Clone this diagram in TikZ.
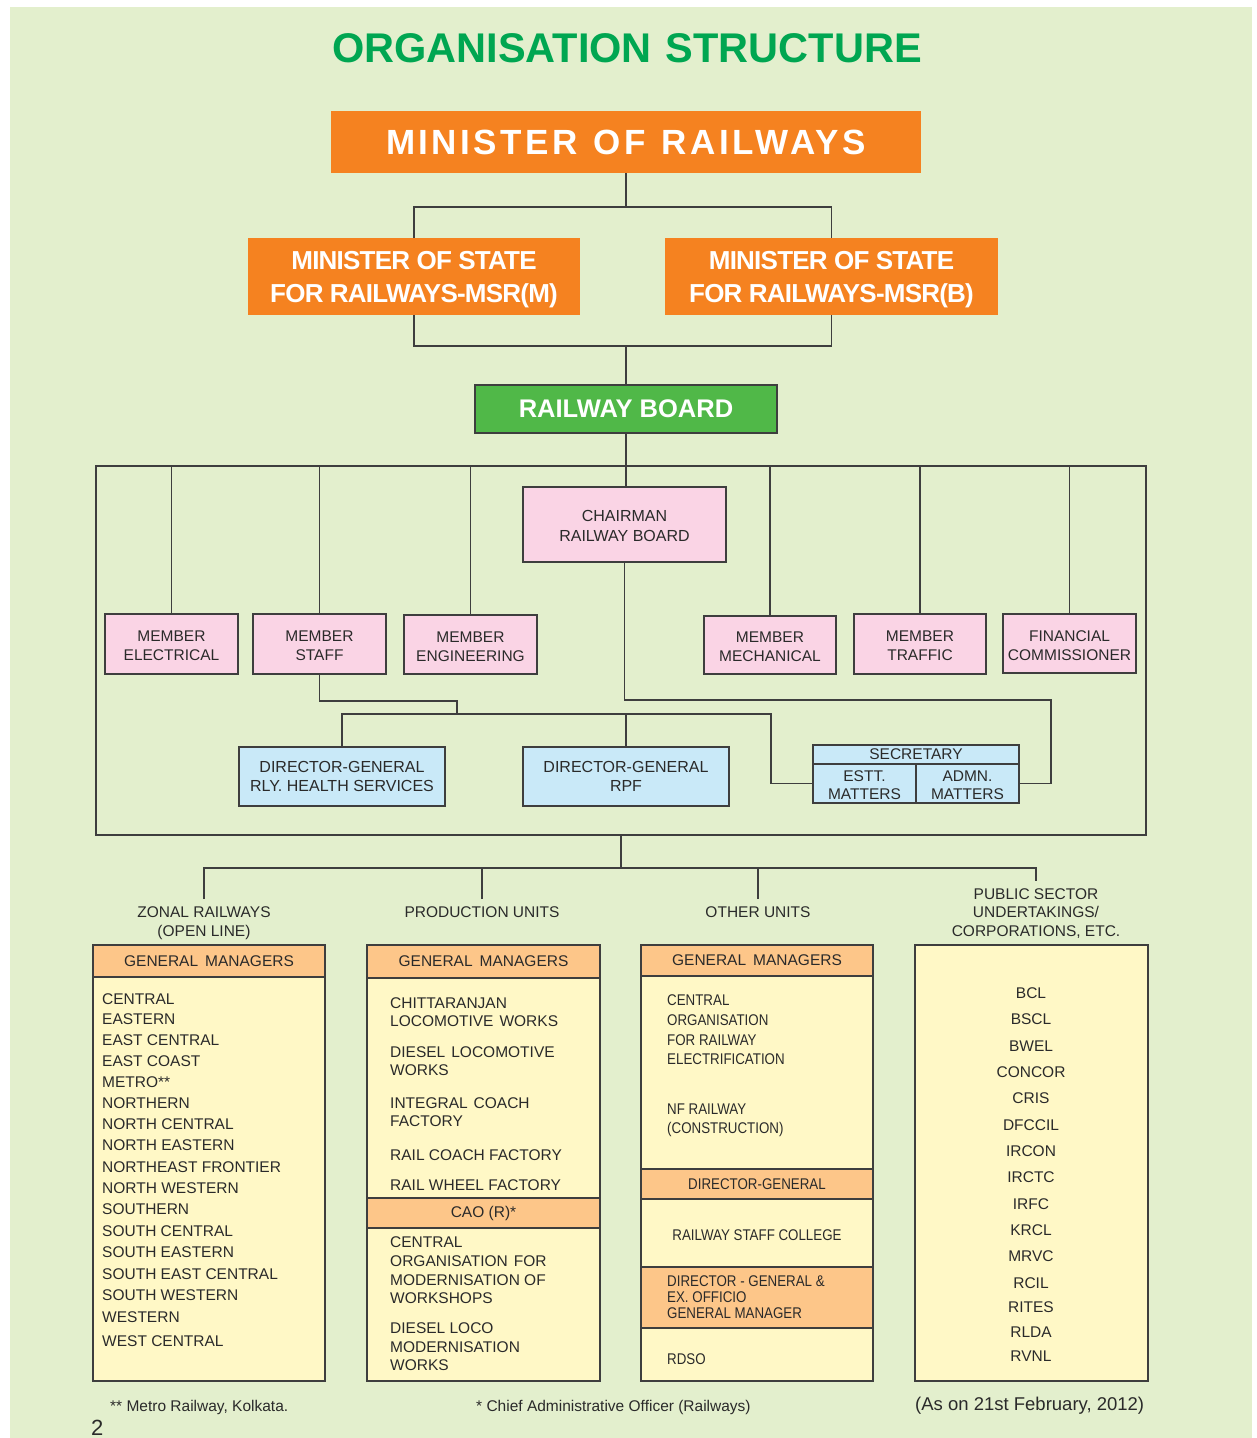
\documentclass[tikz,border=0pt]{standalone}
\usepackage{fontspec}
\setmainfont{Liberation Sans}
\newfontfamily\condfont[FakeStretch=0.86]{Liberation Sans}
\definecolor{pagebg}{RGB}{227,239,205}
\definecolor{titlegreen}{RGB}{0,166,81}
\definecolor{boxorange}{RGB}{245,130,32}
\definecolor{boardgreen}{RGB}{80,184,72}
\definecolor{memberpink}{RGB}{250,212,229}
\definecolor{dgblue}{RGB}{201,233,248}
\definecolor{unityellow}{RGB}{255,248,198}
\definecolor{headorange}{RGB}{253,198,137}
\definecolor{inkgray}{RGB}{62,62,62}
\definecolor{textgray}{RGB}{42,42,42}
\newcommand\txtsize{\fontsize{15.5}{19}\selectfont}
\begin{document}
\begin{tikzpicture}[x=1pt,y=-1pt,
  link/.style={draw=inkgray, line width=1.2pt},
  box/.style={draw=inkgray, line width=1.2pt, inner sep=0pt, outer sep=0pt,
    anchor=north west, align=center, text=textgray, font=\txtsize},
  topbox/.style={fill=boxorange, inner sep=0pt, outer sep=0pt, anchor=north west,
    align=center, text=white},
  memberbox/.style={box, fill=memberpink, text height=33pt, text depth=0pt},
  dgbox/.style={box, fill=dgblue},
  unitbox/.style={box, fill=unityellow},
  headbox/.style={box, fill=headorange},
  lbl/.style={inner xsep=0pt, inner ysep=7pt, anchor=north, align=center,
    text=textgray, font=\fontsize{15.5}{19.5}\selectfont},
  item/.style={inner sep=0pt, anchor=base west, text=textgray, font=\txtsize},
  citem/.style={inner sep=0pt, anchor=base west, text=textgray,
    font=\fontsize{15.5}{19}\condfont},
  psuitem/.style={inner sep=0pt, anchor=base, text=textgray, font=\txtsize},
  note/.style={inner sep=0pt, anchor=base west, text=textgray}
]
\useasboundingbox (0,0) rectangle (1256,1438);
\fill[white] (0,0) rectangle (1256,1438);
\fill[pagebg] (10,7) rectangle (1252,1438);

% ---- heading ----
\node[inner sep=0pt, anchor=base, text=titlegreen,
  font=\fontsize{41.5}{48}\selectfont\bfseries] (title) at (627,62)
  {ORGANISATION\hspace{14pt}STRUCTURE};

% ---- ministers ----
\node[topbox, minimum width=590pt, minimum height=62pt,
  font=\fontsize{35}{40}\selectfont\bfseries\addfontfeatures{LetterSpace=10}]
  (minister) at (331,111) {MINISTER\hspace{16pt}OF\hspace{16pt}RAILWAYS};
\node[topbox, minimum width=332pt, minimum height=77pt, text height=51.6pt, text depth=0pt,
  font=\fontsize{26}{33}\selectfont\bfseries\addfontfeatures{LetterSpace=-3}] (msrm) at (248,238)
  {MINISTER OF STATE\\FOR RAILWAYS-MSR(M)};
\node[topbox, minimum width=333pt, minimum height=77pt, text height=51.6pt, text depth=0pt,
  font=\fontsize{26}{33}\selectfont\bfseries\addfontfeatures{LetterSpace=-3}] (msrb) at (665,238)
  {MINISTER OF STATE\\FOR RAILWAYS-MSR(B)};
\node[box, fill=boardgreen, text=white, minimum width=302pt, minimum height=48pt,
  font=\fontsize{25.5}{30}\selectfont\bfseries] (board) at (475,385) {RAILWAY BOARD};

\coordinate (mbus) at (626,207);
\coordinate (sbus) at (626,346);
\draw[link] (minister.south) -- (mbus);
\draw[link] (msrm.north) |- (mbus) -| (msrb.north);
\draw[link] (msrm.south) |- (sbus) -| (msrb.south);
\draw[link] (sbus) -- (board.north);

% ---- railway board frame ----
\node[draw=inkgray, line width=1.2pt, inner sep=0pt, outer sep=0pt, anchor=north west,
  minimum width=1050pt, minimum height=369pt] (frame) at (96,466) {};

\node[memberbox, minimum width=203pt, minimum height=75pt, text height=34.5pt,
  font=\fontsize{16}{20}\selectfont] (chair) at (523,487) {CHAIRMAN\\RAILWAY BOARD};
\node[memberbox, minimum width=133pt, minimum height=60pt] (melec) at (105,614) {MEMBER\\ELECTRICAL};
\node[memberbox, minimum width=133pt, minimum height=60pt] (mstaff) at (253,614) {MEMBER\\STAFF};
\node[memberbox, minimum width=133pt, minimum height=59pt] (meng) at (404,615) {MEMBER\\ENGINEERING};
\node[memberbox, minimum width=132pt, minimum height=58pt] (mmech) at (704,616) {MEMBER\\MECHANICAL};
\node[memberbox, minimum width=132pt, minimum height=60pt] (mtraf) at (854,614) {MEMBER\\TRAFFIC};
\node[memberbox, minimum width=133pt, minimum height=59pt] (fincom) at (1003,614) {FINANCIAL\\COMMISSIONER};

\draw[link] (board.south) -- (board.south |- chair.north);
\foreach \m in {melec,mstaff,meng,mmech,mtraf,fincom}
  \draw[link] (\m.north) -- (\m.north |- frame.north);

\node[dgbox, minimum width=206pt, minimum height=59pt, text height=30.5pt, text depth=0pt,
  font=\fontsize{16}{19}\selectfont]
  (dghealth) at (239,747) {DIRECTOR-GENERAL\\RLY. HEALTH SERVICES};
\node[dgbox, minimum width=206pt, minimum height=59pt, text height=30.5pt, text depth=0pt,
  font=\fontsize{16}{19}\selectfont]
  (dgrpf) at (523,747) {DIRECTOR-GENERAL\\RPF};
\node[dgbox, minimum width=206pt, minimum height=19pt] (secr) at (813,745) {SECRETARY};
\node[dgbox, minimum width=103pt, minimum height=39pt, text height=32pt, text depth=0pt,
  font=\fontsize{15.5}{18}\selectfont] (estt) at (813,764) {ESTT.\\MATTERS};
\node[dgbox, minimum width=103pt, minimum height=39pt, text height=32pt, text depth=0pt,
  font=\fontsize{15.5}{18}\selectfont] (admn) at (916,764) {ADMN.\\MATTERS};

\coordinate (staffjog) at (457,701);
\coordinate (dgbus) at (342,714);
\coordinate (dgbusend) at (771,714);
\coordinate (chairjog) at (1051,700);
\draw[link] (mstaff.south) |- (staffjog) -- (staffjog |- dgbus);
\draw[link] (dghealth.north) -- (dgbus) -- (dgbusend) |- (estt.west);
\draw[link] (dgrpf.north) -- (dgrpf.north |- dgbus);
\draw[link] (chair.south) |- (chairjog) |- (admn.east);

% ---- unit groups ----
\node[lbl] (lblzonal) at (204,899) {ZONAL RAILWAYS\\(OPEN LINE)};
\node[lbl] (lblprod) at (482,899) {PRODUCTION UNITS};
\node[lbl] (lblother) at (758,899) {OTHER UNITS};
\node[lbl, font=\fontsize{15.5}{18.5}\selectfont] (lblpsu) at (1036,881)
  {PUBLIC SECTOR\\UNDERTAKINGS/\\CORPORATIONS, ETC.};

\coordinate (unitbus) at (621,868);
\draw[link] (frame.south) -- (unitbus);
\draw[link] (lblzonal.north) |- (unitbus) -| (lblpsu.north);
\draw[link] (lblprod.north) -- (lblprod.north |- unitbus);
\draw[link] (lblother.north) -- (lblother.north |- unitbus);

% column boxes
\node[unitbox, minimum width=232pt, minimum height=436pt] (colzonal) at (93,945) {};
\node[unitbox, minimum width=233pt, minimum height=436pt] (colprod) at (367,945) {};
\node[unitbox, minimum width=232pt, minimum height=436pt] (colother) at (641,945) {};
\node[unitbox, minimum width=233pt, minimum height=436pt] (colpsu) at (915,945) {};

\node[headbox, minimum width=232pt, minimum height=32pt] (hdzonal) at (93,945) {GENERAL\hspace{7pt}MANAGERS};
\node[headbox, minimum width=233pt, minimum height=33pt] (hdprod) at (367,945) {GENERAL\hspace{7pt}MANAGERS};
\node[headbox, minimum width=232pt, minimum height=31pt] (hdother) at (641,945) {GENERAL\hspace{7pt}MANAGERS};
\node[headbox, minimum width=233pt, minimum height=30pt] (caoband) at (367,1198) {CAO (R)*};
\node[headbox, minimum width=232pt, minimum height=30pt, font=\fontsize{15.5}{19}\condfont]
  (dgband) at (641,1169) {DIRECTOR-GENERAL};
\node[headbox, minimum width=232pt, minimum height=61pt] (dgexband) at (641,1267) {};

% zonal railways
\foreach \t/\y [count=\i] in {CENTRAL/999, EASTERN/1019, EAST CENTRAL/1040,
  EAST COAST/1061, METRO**/1082, NORTHERN/1103, NORTH CENTRAL/1124,
  NORTH EASTERN/1145, NORTHEAST FRONTIER/1167, NORTH WESTERN/1188,
  SOUTHERN/1209, SOUTH CENTRAL/1231, SOUTH EASTERN/1252,
  SOUTH EAST CENTRAL/1274, SOUTH WESTERN/1295, WESTERN/1317, WEST CENTRAL/1341}
  \node[item] (zr-\i) at (102,{\y+5.5}) {\t};

% production units
\foreach \t/\y [count=\i] in {CHITTARANJAN/1003, LOCOMOTIVE\hspace{6pt}WORKS/1021,
  DIESEL\hspace{6pt}LOCOMOTIVE/1052, WORKS/1070, INTEGRAL\hspace{6pt}COACH/1103,
  FACTORY/1121, RAIL COACH FACTORY/1155, RAIL WHEEL FACTORY/1185,
  CENTRAL/1242, ORGANISATION\hspace{6pt}FOR/1261, MODERNISATION OF/1280,
  WORKSHOPS/1298, DIESEL LOCO/1328, MODERNISATION/1347, WORKS/1365}
  \node[item] (pu-\i) at (390,{\y+5.5}) {\t};

% other units
\foreach \t/\y [count=\i] in {CENTRAL/1000, ORGANISATION/1020, FOR RAILWAY/1040,
  ELECTRIFICATION/1059, NF RAILWAY/1109, (CONSTRUCTION)/1128,
  DIRECTOR - GENERAL \&/1281, EX. OFFICIO/1297, GENERAL MANAGER/1313, RDSO/1359}
  \node[citem] (ou-\i) at (667,{\y+5.5}) {\t};
\node[inner sep=0pt, anchor=base, text=textgray, font=\fontsize{15.5}{19}\condfont]
  (rsc) at (757,1240.5) {RAILWAY STAFF COLLEGE};

% public sector undertakings
\foreach \t/\y [count=\i] in {BCL/993, BSCL/1019, BWEL/1046, CONCOR/1072, CRIS/1098,
  DFCCIL/1125, IRCON/1151, IRCTC/1177, IRFC/1204, KRCL/1230, MRVC/1256,
  RCIL/1283, RITES/1307, RLDA/1332, RVNL/1356}
  \node[psuitem] (psu-\i) at (1031,{\y+5.5}) {\t};

% ---- notes ----
\node[note, font=\fontsize{15.5}{19}\selectfont] (fn1) at (110,1411) {** Metro Railway, Kolkata.};
\node[note, font=\fontsize{15.5}{19}\selectfont] (fn2) at (476,1411) {* Chief Administrative Officer (Railways)};
\node[note, font=\fontsize{18.5}{22}\selectfont] (asof) at (915,1410) {(As on 21st February, 2012)};
\node[note, font=\fontsize{22}{26}\selectfont] (pageno) at (91,1435) {2};
\end{tikzpicture}
\end{document}
